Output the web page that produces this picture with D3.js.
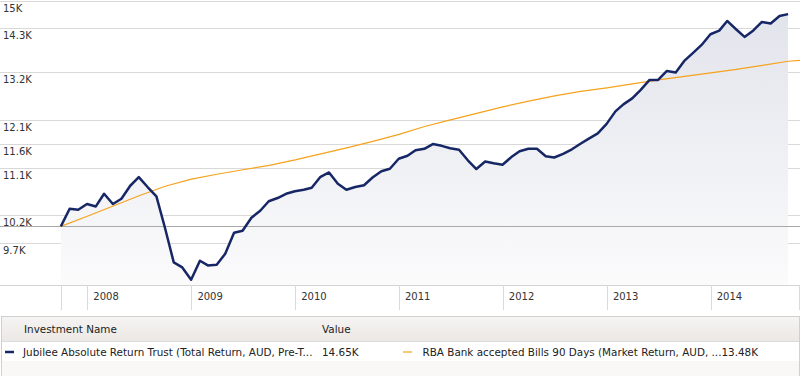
<!DOCTYPE html>
<html>
<head>
<meta charset="utf-8">
<script src="https://cdn.jsdelivr.net/npm/d3@7"></script>
<style>
  body { margin: 0; background: #fff; }
  svg { display: block; font-family: "DejaVu Sans", Verdana, sans-serif; }
  .tick-label { font-size: 10px; fill: #333; }
  .legend-text { font-size: 10.4px; fill: #222; }
</style>
</head>
<body>
<div id="chart"></div>
<script>
// fund: month-end values, Sep 2007 .. Sep 2014
const fundStart = "2007-09-30";
const fundValues = [
    10000, 10323, 10305, 10411, 10366, 10605, 10411, 10510, 10759, 10928,
    10734, 10554, 9976, 9373, 9289, 9086, 9402, 9323, 9334, 9521,
    9887, 9922, 10157, 10286, 10463, 10524, 10605, 10653, 10682, 10720,
    10934, 11019, 10798, 10682, 10734, 10769, 10920, 11043, 11093, 11294,
    11355, 11467, 11498, 11596, 11560, 11509, 11478, 11263, 11087, 11239,
    11202, 11172, 11328, 11447, 11498, 11498, 11344, 11320, 11395, 11488,
    11602, 11717, 11823, 12026, 12299, 12455, 12590, 12784, 13015, 13015,
    13227, 13192, 13467, 13662, 13860, 14129, 14221, 14471, 14256, 14061,
    14226, 14445, 14406, 14601, 14650
];

// RBA bills benchmark
const benchDates = [
    "2007-09-30", "2008-01-01", "2008-04-01", "2008-07-01", "2008-10-01",
    "2009-01-01", "2009-04-01", "2009-07-01", "2009-10-01", "2010-01-01",
    "2010-04-01", "2010-07-01", "2010-10-01", "2011-01-01", "2011-04-01",
    "2011-07-01", "2011-10-01", "2012-01-01", "2012-04-01", "2012-07-01",
    "2012-10-01", "2013-01-01", "2013-04-01", "2013-07-01", "2013-10-01",
    "2014-01-01", "2014-04-01", "2014-07-01", "2014-10-01", "2014-11-11"
];
const benchValues = [
    10000, 10184, 10373, 10567, 10749, 10889, 10984, 11073, 11162, 11273,
    11395, 11519, 11654, 11802, 11968, 12113, 12255, 12399, 12527, 12647,
    12749, 12830, 12922, 13015, 13097, 13180, 13263, 13360, 13460, 13480
];

const yTicks = [9700, 10200, 11100, 11600, 12100, 13200, 14300, 15000];
const yearTicks = [2008, 2009, 2010, 2011, 2012, 2013, 2014];

const legendItems = [
    {name: "Jubilee Absolute Return Trust (Total Return, AUD, Pre-T...", value: "14.65K", color: "#172766", width: 2.5},
    {name: "RBA Bank accepted Bills 90 Days (Market Return, AUD, ...", value: "13.48K", color: "#f6a21c", width: 1.2}
];

const W = 803, H = 376;
const plotRight = 800, plotBottom = 285;

const svg = d3.select("#chart").append("svg")
    .attr("width", W)
    .attr("height", H);

const parse = d3.utcParse("%Y-%m-%d");
const start = parse(fundStart);
const fund = fundValues.map((v, i) => ({date: d3.utcDay.offset(d3.utcMonth.offset(d3.utcDay.offset(start, 1), i), -1), value: v}));
const bench = benchDates.map((d, i) => ({date: parse(d), value: benchValues[i]}));

const x = d3.scaleUtc()
    .domain([Date.UTC(2008, 0, 1), Date.UTC(2014, 0, 1)])
    .range([87.3, 710.7]);

const y = d3.scaleLog()
    .domain([9000, 15000])
    .range([plotBottom, 1]);

// gradient for area
const grad = svg.append("defs").append("linearGradient")
    .attr("id", "areaGrad")
    .attr("gradientUnits", "userSpaceOnUse")
    .attr("x1", 0).attr("y1", 0)
    .attr("x2", 0).attr("y2", plotBottom);
grad.append("stop").attr("offset", "0%").attr("stop-color", "#e1e3eb");
grad.append("stop").attr("offset", "100%").attr("stop-color", "#fbfbfc");

// gridlines
svg.append("g").selectAll("line")
    .data(yTicks)
    .enter().append("line")
    .attr("x1", 0).attr("x2", plotRight)
    .attr("y1", d => Math.round(y(d)) + 0.5)
    .attr("y2", d => Math.round(y(d)) + 0.5)
    .attr("stroke", "#d9d9d9");

// area
const area = d3.area()
    .x(d => x(d.date))
    .y0(plotBottom)
    .y1(d => y(d.value));
svg.append("path")
    .datum(fund)
    .attr("fill", "url(#areaGrad)")
    .attr("d", area);

// baseline at start value
svg.append("line")
    .attr("x1", 0).attr("x2", plotRight)
    .attr("y1", Math.round(y(10000)) + 0.5)
    .attr("y2", Math.round(y(10000)) + 0.5)
    .attr("stroke", "#a9a9a9");

// y labels
svg.append("g").selectAll("text")
    .data(yTicks)
    .enter().append("text")
    .attr("class", "tick-label")
    .attr("x", 3)
    .attr("y", d => y(d) + 11)
    .text(d => d3.format(".1f")(d / 1000).replace(/\.0$/, "") + "K");

// x axis
svg.append("line")
    .attr("x1", 0).attr("x2", plotRight)
    .attr("y1", plotBottom + 0.5).attr("y2", plotBottom + 0.5)
    .attr("stroke", "#d4d4d4");

const xTickPos = [x(fund[0].date)].concat(yearTicks.map(d => x(Date.UTC(d, 0, 1)))).concat([plotRight - 1]);
svg.append("g").selectAll("line")
    .data(xTickPos)
    .enter().append("line")
    .attr("x1", d => Math.round(d) + 0.5).attr("x2", d => Math.round(d) + 0.5)
    .attr("y1", plotBottom).attr("y2", 310)
    .attr("stroke", "#d9d9d9");

svg.append("g").selectAll("text")
    .data(yearTicks)
    .enter().append("text")
    .attr("class", "tick-label")
    .attr("x", d => x(Date.UTC(d, 0, 1)) + 6)
    .attr("y", 300)
    .text(d => d);

// lines
const line = d3.line()
    .x(d => x(d.date))
    .y(d => y(d.value));

svg.append("path")
    .datum(bench)
    .attr("fill", "none")
    .attr("stroke", legendItems[1].color)
    .attr("stroke-width", legendItems[1].width)
    .attr("d", line);

svg.append("path")
    .datum(fund)
    .attr("fill", "none")
    .attr("stroke", legendItems[0].color)
    .attr("stroke-width", legendItems[0].width)
    .attr("stroke-linejoin", "round")
    .attr("d", line);

// legend table
const lg = svg.append("g");
const hdrGrad = svg.select("defs").append("linearGradient")
    .attr("id", "hdrGrad")
    .attr("x1", 0).attr("y1", 0).attr("x2", 0).attr("y2", 1);
hdrGrad.append("stop").attr("offset", "0%").attr("stop-color", "#f6f4f2");
hdrGrad.append("stop").attr("offset", "100%").attr("stop-color", "#ebe8e5");

lg.append("rect")
    .attr("x", 1.5).attr("y", 316.5)
    .attr("width", 798).attr("height", 70)
    .attr("fill", "#faf8f6")
    .attr("stroke", "#d0d0d0");
lg.append("rect")
    .attr("x", 2).attr("y", 317)
    .attr("width", 797).attr("height", 24)
    .attr("fill", "url(#hdrGrad)");
lg.append("rect")
    .attr("x", 2).attr("y", 342)
    .attr("width", 797).attr("height", 19)
    .attr("fill", "#fff");
lg.append("line")
    .attr("x1", 2).attr("x2", 799)
    .attr("y1", 341.5).attr("y2", 341.5)
    .attr("stroke", "#dcdcdc");

lg.append("text").attr("class", "legend-text").attr("x", 24).attr("y", 333).text("Investment Name");
lg.append("text").attr("class", "legend-text").attr("x", 322).attr("y", 333).text("Value");

const colX = [5, 403];
legendItems.forEach((d, i) => {
    lg.append("line")
        .attr("x1", colX[i]).attr("x2", colX[i] + 9)
        .attr("y1", 352).attr("y2", 352)
        .attr("stroke", d.color)
        .attr("stroke-width", i === 0 ? 2.5 : 1.2);
    const t = lg.append("text")
        .attr("class", "legend-text")
        .attr("x", colX[i] + (i === 0 ? 18 : 19.5))
        .attr("y", 355.5);
    t.append("tspan").text(d.name);
    if (i === 0) {
        t.append("tspan").attr("x", 322).text(d.value);
    } else {
        t.append("tspan").text(d.value);
    }
});
</script>
</body>
</html>
